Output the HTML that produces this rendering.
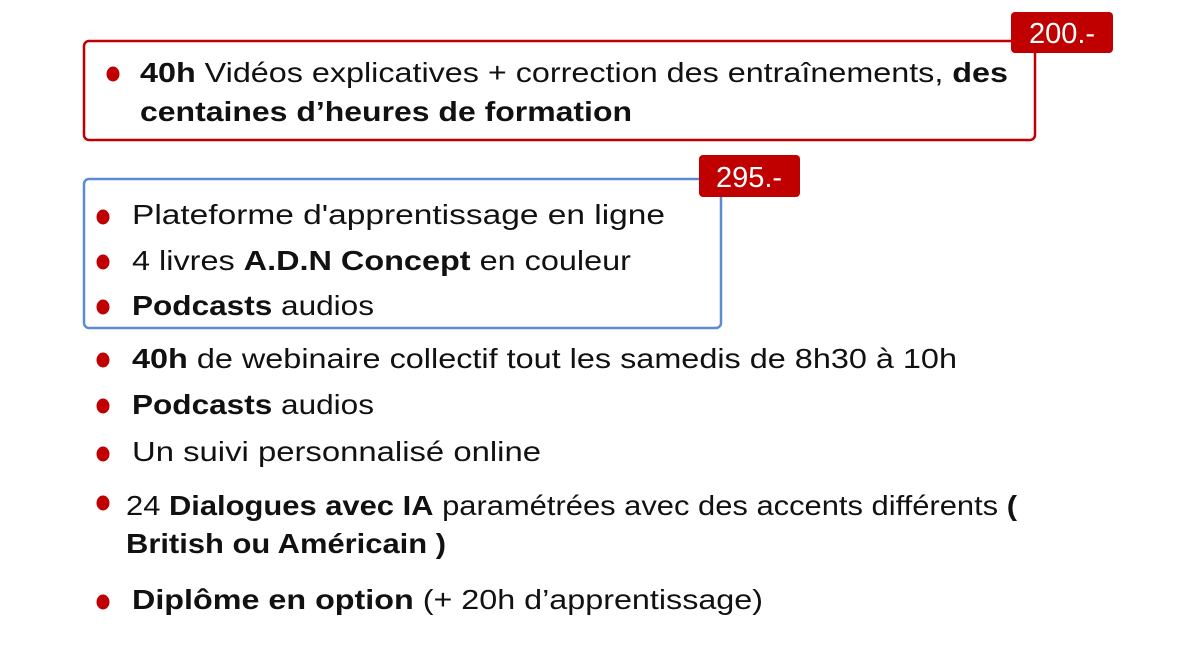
<!DOCTYPE html>
<html><head><meta charset="utf-8"><style>
html,body{margin:0;padding:0;background:#fff;width:1200px;height:646px;overflow:hidden}
svg{display:block}
text{font-family:"Liberation Sans",sans-serif;font-size:28px;fill:#111}
.b{font-weight:bold}
.w{fill:#fff;font-size:29px}
</style></head><body>
<svg width="1200" height="646" viewBox="0 0 1200 646">
<rect x="84" y="41" width="951" height="99" rx="5" fill="none" stroke="#c00000" stroke-width="2.5"/>
<rect x="1011" y="12" width="102" height="41" rx="4" fill="#c00000"/>
<text class="w" x="1062" y="43" text-anchor="middle">200.-</text>
<ellipse cx="113" cy="74" rx="6.5" ry="7.5" fill="#c00000"/>
<text x="140" y="82" textLength="868" lengthAdjust="spacingAndGlyphs"><tspan class="b">40h</tspan> Vidéos explicatives + correction des entraînements, <tspan class="b">des</tspan></text>
<text class="b" x="140" y="121" textLength="492" lengthAdjust="spacingAndGlyphs">centaines d’heures de formation</text>

<rect x="84" y="179" width="637" height="149" rx="5" fill="none" stroke="#5b8bd0" stroke-width="2.5"/>
<rect x="699" y="155" width="101" height="42" rx="4" fill="#c00000"/>
<text class="w" x="749" y="187" text-anchor="middle">295.-</text>
<ellipse cx="103" cy="217" rx="6.5" ry="7.5" fill="#c00000"/>
<text x="132" y="224" textLength="533" lengthAdjust="spacingAndGlyphs">Plateforme d'apprentissage en ligne</text>
<ellipse cx="103" cy="262" rx="6.5" ry="7.5" fill="#c00000"/>
<text x="132" y="270" textLength="499" lengthAdjust="spacingAndGlyphs">4 livres <tspan class="b">A.D.N Concept</tspan> en couleur</text>
<ellipse cx="103" cy="307" rx="6.5" ry="7.5" fill="#c00000"/>
<text x="132" y="315" textLength="242" lengthAdjust="spacingAndGlyphs"><tspan class="b">Podcasts</tspan> audios</text>

<ellipse cx="103" cy="360" rx="6.5" ry="7.5" fill="#c00000"/>
<text x="132" y="368" textLength="825" lengthAdjust="spacingAndGlyphs"><tspan class="b">40h</tspan> de webinaire collectif tout les samedis de 8h30 à 10h</text>
<ellipse cx="103" cy="406" rx="6.5" ry="7.5" fill="#c00000"/>
<text x="132" y="414" textLength="242" lengthAdjust="spacingAndGlyphs"><tspan class="b">Podcasts</tspan> audios</text>
<ellipse cx="103" cy="454" rx="6.5" ry="7.5" fill="#c00000"/>
<text x="132" y="461" textLength="409" lengthAdjust="spacingAndGlyphs">Un suivi personnalisé online</text>
<ellipse cx="103" cy="503" rx="6.5" ry="7.5" fill="#c00000"/>
<text x="126" y="515" textLength="891" lengthAdjust="spacingAndGlyphs">24 <tspan class="b">Dialogues avec IA</tspan> paramétrées avec des accents différents <tspan class="b">(</tspan></text>
<text class="b" x="126" y="553" textLength="320" lengthAdjust="spacingAndGlyphs">British ou  Américain )</text>
<ellipse cx="103" cy="602" rx="6.5" ry="7.5" fill="#c00000"/>
<text x="132" y="609" textLength="631" lengthAdjust="spacingAndGlyphs"><tspan class="b">Diplôme en option</tspan> (+ 20h d’apprentissage)</text>
</svg>
</body></html>
